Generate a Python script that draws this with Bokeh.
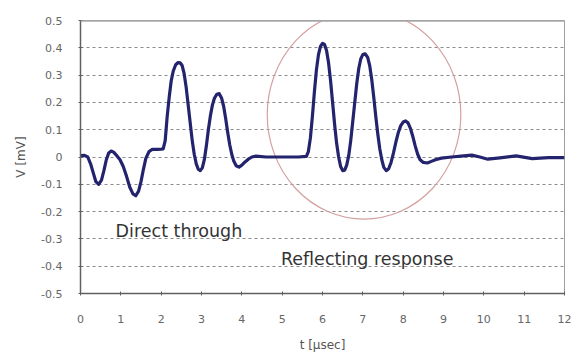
from bokeh.plotting import figure
from bokeh.models import Range1d, ColumnDataSource, FixedTicker, Span
from bokeh.core.properties import value
from bokeh.embed import file_html
from bokeh.resources import INLINE

# ---- data ----
t_us = [0.0, 0.1, 0.18, 0.25, 0.32, 0.38, 0.45, 0.52, 0.58, 0.64, 0.7, 0.76, 0.82, 0.9, 0.98,
        1.06, 1.14, 1.22, 1.3, 1.37, 1.44, 1.5, 1.56, 1.62, 1.7, 1.78, 1.9, 2.0,
        2.05, 2.1, 2.15, 2.2, 2.25, 2.3, 2.36, 2.42, 2.47, 2.52, 2.57, 2.62, 2.67, 2.72, 2.77,
        2.82, 2.87, 2.92, 2.97, 3.02, 3.07, 3.12, 3.17, 3.22, 3.27, 3.32, 3.38, 3.44, 3.5,
        3.55, 3.6, 3.65, 3.7, 3.75, 3.8, 3.86, 3.93, 4.0, 4.08, 4.16, 4.25, 4.35,
        4.6, 5.0, 5.4, 5.6, 5.65, 5.7, 5.75, 5.8, 5.85, 5.9, 5.95, 6.0, 6.05, 6.1, 6.15, 6.2,
        6.25, 6.3, 6.35, 6.4, 6.45, 6.5, 6.55, 6.6, 6.65, 6.7, 6.75, 6.8, 6.85, 6.9, 6.95,
        7.0, 7.06, 7.12, 7.17, 7.22, 7.27, 7.32, 7.37, 7.42, 7.47, 7.52, 7.58, 7.64, 7.7,
        7.76, 7.82, 7.88, 7.94, 8.0, 8.06, 8.12, 8.18, 8.24, 8.3, 8.36, 8.42, 8.5, 8.6, 8.7,
        8.8, 8.95, 9.2, 9.5, 9.7, 9.9, 10.1, 10.4, 10.8, 11.2, 11.6, 12.0]
v_mv = [0.005, 0.006, 0.0, -0.025, -0.06, -0.09, -0.1, -0.085, -0.05, -0.01, 0.015, 0.022,
        0.018, 0.005, -0.01,
        -0.035, -0.07, -0.11, -0.135, -0.142, -0.125, -0.09, -0.045, -0.005, 0.02, 0.028,
        0.028, 0.029,
        0.03, 0.06, 0.15, 0.22, 0.28, 0.315, 0.338, 0.346, 0.345, 0.335, 0.305, 0.255, 0.19,
        0.125, 0.06,
        0.01, -0.025, -0.045, -0.05, -0.04, -0.01, 0.04, 0.1, 0.15, 0.19, 0.215, 0.23, 0.232,
        0.215,
        0.185, 0.14, 0.09, 0.045, 0.01, -0.015, -0.032, -0.037, -0.03, -0.018, -0.008, 0.0,
        0.003,
        0.0, 0.0, 0.0, 0.002, 0.02, 0.07, 0.15, 0.24, 0.32, 0.375, 0.405, 0.416, 0.412, 0.39,
        0.345, 0.28,
        0.2, 0.12, 0.05, 0.0, -0.035, -0.05, -0.048, -0.03, 0.005, 0.06, 0.13, 0.2, 0.27,
        0.325, 0.36,
        0.375, 0.378, 0.365, 0.335, 0.285, 0.22, 0.15, 0.085, 0.03, -0.01, -0.038, -0.05,
        -0.043, -0.02,
        0.015, 0.055, 0.09, 0.115, 0.128, 0.132, 0.125, 0.105, 0.075, 0.04, 0.01, -0.01,
        -0.02, -0.022, -0.016,
        -0.01, -0.004, 0.0, 0.004, 0.007, 0.0, -0.008, -0.003, 0.004, -0.006, -0.002, -0.002]
assert len(t_us) == len(v_mv)

x_ticks = list(range(0, 13))
y_ticks = [0.5, 0.4, 0.3, 0.2, 0.1, 0.0, -0.1, -0.2, -0.3, -0.4, -0.5]
y_tick_labels = ["0.5", "0.4", "0.3", "0.2", "0.1", "0", "-0.1", "-0.2", "-0.3", "-0.4", "-0.5"]

note_text = ["Direct through", "Reflecting response"]
note_x = [0.87, 4.97]
note_y = [-0.272, -0.372]

# highlight ellipse around the reflecting response (data units)
ring_x = [7.03]
ring_y = [0.155]
ring_w = [4.8]
ring_h = [0.765]

p = figure(width=572, height=354, output_backend="svg", toolbar_location=None,
           x_range=Range1d(0, 12), y_range=Range1d(-0.5, 0.5),
           min_border_left=80, min_border_right=8, min_border_top=20, min_border_bottom=61)
p.background_fill_color = "white"
p.border_fill_color = "white"
p.outline_line_color = "#a0a0a0"
p.outline_line_width = 1

# grid
p.xgrid.grid_line_color = None
p.ygrid.ticker = FixedTicker(ticks=y_ticks)
p.ygrid.grid_line_color = "#8a8a8a"
p.ygrid.grid_line_dash = "3 3"
p.ygrid.grid_line_width = 1

# heavier top frame edge as in the reference
p.add_layout(Span(location=y_ticks[0], dimension="width", line_color="#a8a8a8", line_width=2.5))

# axes
p.xaxis.ticker = FixedTicker(ticks=x_ticks)
p.yaxis.ticker = FixedTicker(ticks=y_ticks)
p.yaxis.major_label_overrides = {t: s for t, s in zip(y_ticks, y_tick_labels)}
for ax in (p.xaxis[0], p.yaxis[0]):
    ax.axis_line_color = "#606060"
    ax.axis_line_width = 1.5
    ax.major_tick_line_color = "#606060"
    ax.minor_tick_line_color = None
    ax.major_label_text_color = "#666666"
    ax.major_label_text_font = "DejaVu Sans"
    ax.major_label_text_font_size = "11px"
    ax.axis_label_text_color = "#555555"
    ax.axis_label_text_font = "DejaVu Sans"
    ax.axis_label_text_font_size = "12px"
    ax.axis_label_text_font_style = "normal"
p.xaxis.major_tick_in = 2
p.xaxis.major_tick_out = 2
p.xaxis.major_label_standoff = 19
p.xaxis.axis_label = "t [μsec]"
p.xaxis.axis_label_standoff = 12
p.yaxis.major_tick_in = 2
p.yaxis.major_tick_out = 2
p.yaxis.major_label_standoff = 16
p.yaxis.axis_label = "V [mV]"
p.yaxis.axis_label_standoff = 10

# highlight ring
p.ellipse(x=ring_x, y=ring_y, width=ring_w, height=ring_h, fill_color=None,
          line_color="#d4a0a0", line_width=1.2)

# waveform
p.line(t_us, v_mv, line_color="#24246e", line_width=3.2, line_join="round")

# notes
src = ColumnDataSource(dict(x=note_x, y=note_y, text=note_text))
p.text(x="x", y="y", text="text", source=src, text_font=value("DejaVu Sans"),
       text_font_size="17.5px", text_color="#333333", text_baseline="alphabetic",
       text_align="left")

open("out.html", "w").write(file_html(p, INLINE))
